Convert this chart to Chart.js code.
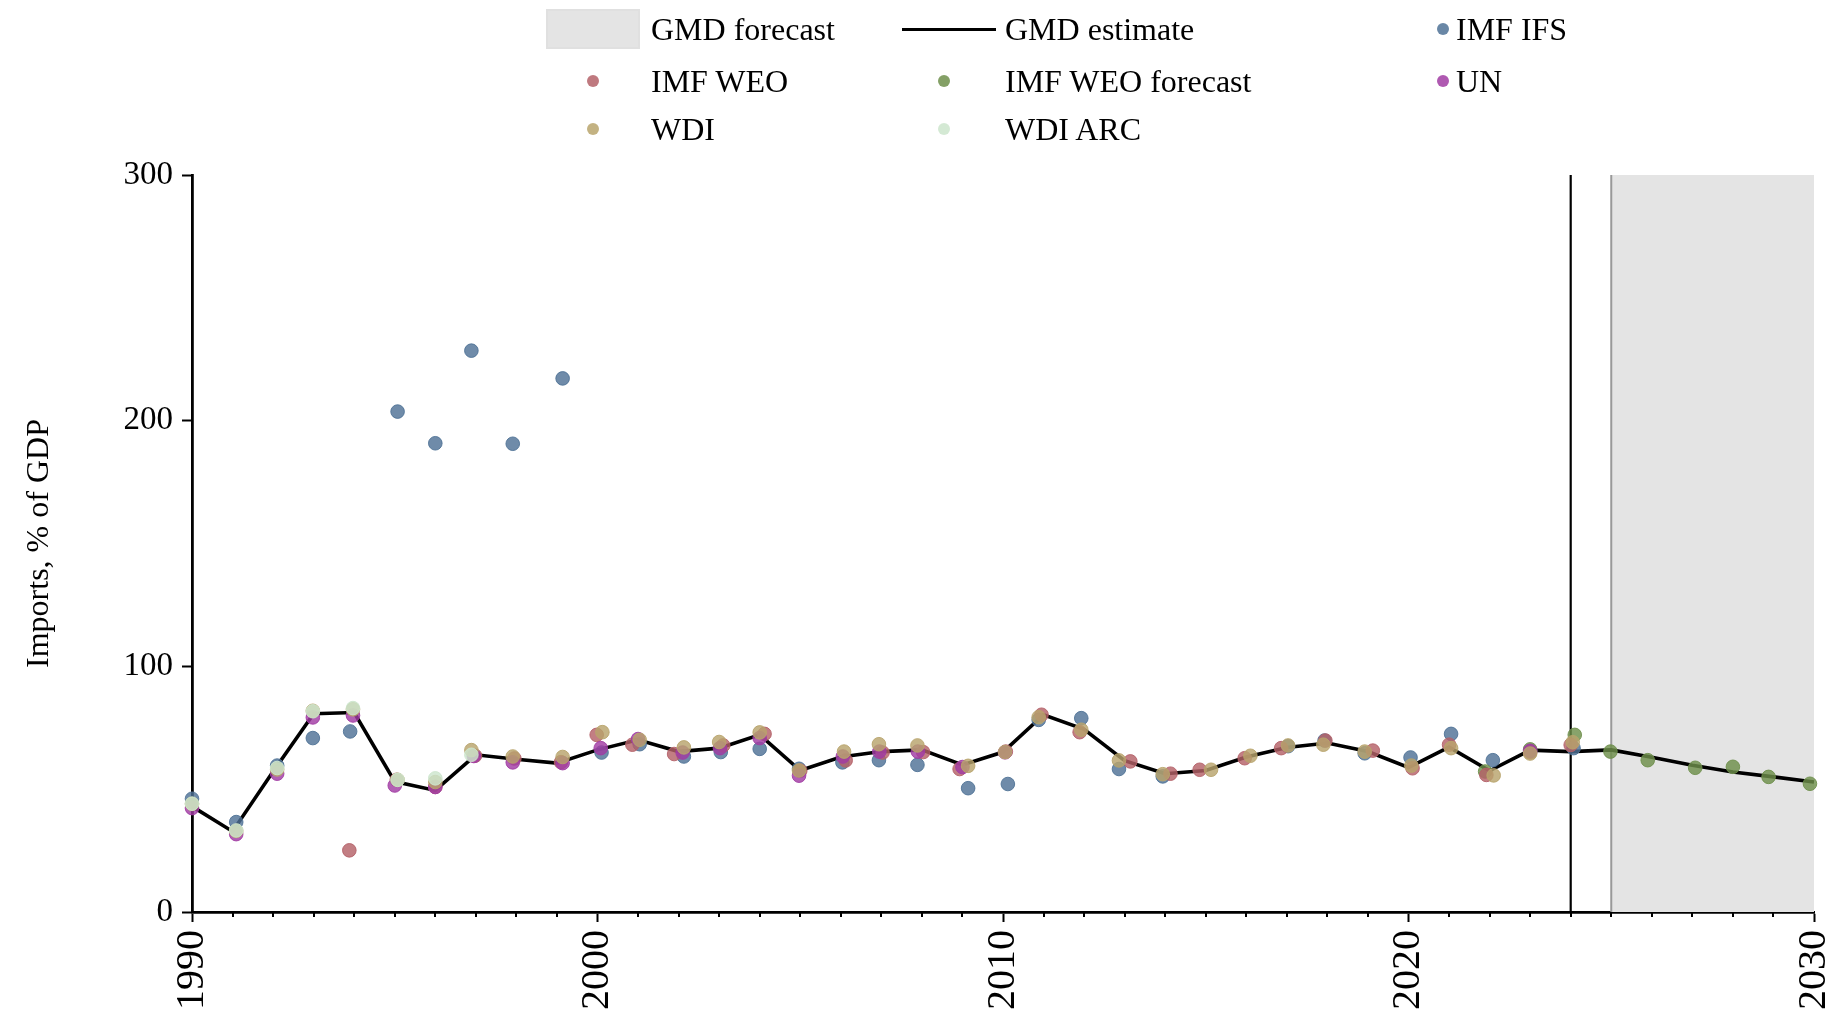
<!DOCTYPE html>
<html>
<head>
<meta charset="utf-8">
<script src="https://cdn.jsdelivr.net/npm/chart.js@4.4.1/dist/chart.umd.min.js"></script>
<style>
html, body { margin:0; padding:0; background:#fff; }
#wrap { position:relative; width:1837px; height:1017px; font-family:"Liberation Serif","Times New Roman",serif; }
#chart { position:absolute; left:0; top:0; }
.lg-text { position:absolute; font-size:32px; line-height:32px; color:#000; white-space:nowrap; }
.lg-dot { position:absolute; width:12px; height:12px; border-radius:50%; }
.lg-patch { position:absolute; background:#e4e4e4; border:2px solid #e0e0e0; box-sizing:border-box; }
.lg-line { position:absolute; height:3px; background:#000; }
</style>
</head>
<body>
<div id="wrap">
<canvas id="chart" width="1837" height="1017"></canvas>
</div>
<script>
// GMD estimate (line)
const years = [1990,1991,1992,1993,1994,1995,1996,1997,1998,1999,
  2000,2001,2002,2003,2004,2005,2006,2007,2008,2009,
  2010,2011,2012,2013,2014,2015,2016,2017,2018,2019,
  2020,2021,2022,2023,2024,2025,2026,2027,2028,2029,2030];
const gmdEstimate = [43.0,32.8,57.2,80.7,81.2,53.1,49.5,64.0,62.2,60.6,
  66.0,70.1,65.3,66.7,72.1,57.6,63.1,65.3,66.0,59.9,
  65.1,80.3,74.4,61.6,56.3,57.6,63.1,67.0,68.8,65.3,
  58.8,67.1,57.5,65.9,65.3,66.0,63.0,59.7,57.0,55.0,52.9];

// source points (x = year as placed in the picture)
const ifsYears = [1990,1991.09,1992.1,1992.98,1993.9,1995.07,1996.0,1996.89,1997.91,1999.14,
  2000.1,2001.04,2002.13,2003.04,2004.0,2004.97,2006.04,2006.94,2007.89,2009.14,
  2010.12,2010.88,2011.93,2012.86,2013.94,2017.03,2017.93,2018.92,2020.05,2021.05,
  2022.08,2023.0,2024.07];
const ifsValues = [46.1,36.6,59.6,70.8,73.5,203.7,190.8,228.5,190.6,217.2,
  64.9,68.3,63.3,65.1,66.4,58.3,60.9,61.8,59.9,50.4,
  52.1,78.2,78.9,58.2,55.2,67.5,69.8,64.6,62.9,72.5,
  61.8,65.5,66.7];

const weoYears = [1993.88,1995.05,1996.0,1996.98,1997.95,1999.1,1999.98,2000.86,2001.89,2003.1,
  2004.12,2005.0,2006.12,2007.03,2008.03,2008.93,2010.07,2010.95,2011.89,2013.14,
  2014.13,2014.85,2015.96,2016.86,2017.95,2019.12,2020.1,2021.0,2021.92,2023.0,2024.0];
const weoValues = [25.1,53.8,50.9,63.6,62.5,61.0,72.1,68.1,64.3,67.8,
  72.5,57.5,61.7,64.9,65.1,58.2,65.3,80.3,73.2,61.3,
  56.3,57.9,62.6,66.7,69.8,65.7,58.5,68.1,55.8,65.0,68.0];

const weoForecastYears = [2021.89,2023.0,2024.1,2024.98,2025.9,2027.07,2028.0,2028.88,2029.9];
const weoForecastValues = [57.2,66.2,72.1,65.3,61.8,58.7,59.1,55.0,52.2];

const unYears = [1990,1991.09,1992.1,1992.98,1993.97,1995.0,1996.0,1996.95,1997.91,1999.14,
  2000.08,2001.0,2002.1,2003.02,2004.0,2004.97,2006.05,2006.95,2007.9,2009.0,2010.05,2023.0];
const unValues = [42.3,31.7,56.3,79.2,80.0,51.5,50.9,63.5,60.9,60.6,
  66.7,70.4,64.9,66.7,70.8,55.5,63.3,65.3,65.3,59.0,65.0,65.6];

const wdiYears = [1990,1991.09,1992.1,1992.98,1993.97,1995.07,1996.0,1996.89,1997.91,1999.14,
  2000.12,2001.04,2002.13,2003.0,2004.0,2004.97,2006.08,2006.94,2007.89,2009.14,
  2010.05,2010.88,2011.93,2012.86,2013.94,2015.13,2016.1,2017.03,2017.9,2018.92,
  2020.07,2021.05,2022.1,2023.0,2024.05];
const wdiValues = [44.0,33.0,58.0,81.9,82.5,53.8,52.9,65.9,63.3,63.1,
  73.2,70.1,67.0,69.2,73.1,57.6,65.3,68.3,67.8,59.5,
  65.1,79.3,74.2,61.7,56.1,57.9,63.6,67.8,68.1,65.3,
  59.6,66.7,55.6,64.5,69.1];

const wdiArcYears = [1990,1991.09,1992.1,1992.98,1993.97,1995.07,1996.0,1996.89];
const wdiArcValues = [44.1,33.2,58.6,81.7,83.0,53.8,54.4,64.0];

const estimateEnd = 2024;
const forecastStart = 2025;
const forecastEnd = 2030;
const minorYears = years.filter(y => y % 10 !== 0);

const colors = {
  ifs: '79,114,150', weo: '180,97,104', weoF: '110,143,75',
  un: '161,60,163', wdi: '184,164,108', wdiArc: '205,229,205'
};

function pts(xs, ys) { return xs.map((x, i) => ({x: x, y: ys[i]})); }
function scatterSet(label, xs, ys, rgb, order) {
  return {
    type: 'scatter', label: label, data: pts(xs, ys), order: order,
    backgroundColor: 'rgba(' + rgb + ',0.82)', borderColor: 'rgba(' + rgb + ',0.9)',
    borderWidth: 1, pointRadius: 6.8, clip: false
  };
}

const FONT = '"Liberation Serif","Times New Roman",serif';

const forecastPlugin = {
  id: 'forecast',
  beforeDatasetsDraw(chart) {
    const {ctx, chartArea, scales} = chart;
    const x0 = scales.x.getPixelForValue(forecastStart);
    const x1 = scales.x.getPixelForValue(forecastEnd);
    const xe = scales.x.getPixelForValue(estimateEnd);
    ctx.save();
    ctx.fillStyle = '#e4e4e4';
    ctx.fillRect(x0, chartArea.top, x1 - x0, chartArea.bottom - chartArea.top);
    ctx.strokeStyle = '#999';
    ctx.lineWidth = 2;
    ctx.beginPath(); ctx.moveTo(x0, chartArea.top); ctx.lineTo(x0, chartArea.bottom); ctx.stroke();
    ctx.strokeStyle = '#000';
    ctx.lineWidth = 2.2;
    ctx.beginPath(); ctx.moveTo(xe, chartArea.top); ctx.lineTo(xe, chartArea.bottom); ctx.stroke();
    ctx.restore();
  },
  afterDraw(chart) {
    // small yearly ticks
    const {ctx, scales} = chart;
    const sx = scales.x;
    ctx.save();
    ctx.strokeStyle = '#000';
    ctx.lineWidth = 2;
    minorYears.forEach(y => {
      const px = Math.round(sx.getPixelForValue(y));
      ctx.beginPath(); ctx.moveTo(px, sx.top); ctx.lineTo(px, sx.top + 5); ctx.stroke();
    });
    ctx.restore();
  }
};

new Chart(document.getElementById('chart'), {
  data: {
    datasets: [
      {type: 'line', label: 'GMD estimate', data: pts(years, gmdEstimate), borderColor: '#000',
        borderWidth: 3.6, pointRadius: 0, tension: 0, order: 10, clip: false},
      scatterSet('IMF IFS', ifsYears, ifsValues, colors.ifs, 6),
      scatterSet('IMF WEO', weoYears, weoValues, colors.weo, 4),
      scatterSet('IMF WEO forecast', weoForecastYears, weoForecastValues, colors.weoF, 5),
      scatterSet('UN', unYears, unValues, colors.un, 3),
      scatterSet('WDI', wdiYears, wdiValues, colors.wdi, 2),
      scatterSet('WDI ARC', wdiArcYears, wdiArcValues, colors.wdiArc, 1)
    ]
  },
  options: {
    responsive: false,
    animation: false,
    layout: {padding: {top: 175, right: 23, left: 0, bottom: 0}},
    plugins: {legend: {display: false}, tooltip: {enabled: false}},
    scales: {
      x: {
        type: 'linear', position: 'bottom', min: 1990, max: 2030,
        afterFit(s) { s.height = 105; s.paddingLeft = 0; s.paddingRight = 0; },
        ticks: {stepSize: 10, minRotation: 90, maxRotation: 90, padding: 8, color: '#000',
          font: {family: FONT, size: 40}, callback: v => String(v)},
        grid: {display: true, drawOnChartArea: false, drawTicks: true, tickLength: 10,
          tickWidth: 2, tickColor: '#000'},
        border: {display: true, color: '#000', width: 2.8}
      },
      y: {
        min: 0, max: 300,
        afterFit(s) { s.width = 192; s.paddingTop = 0; s.paddingBottom = 0; },
        ticks: {stepSize: 100, padding: 9, color: '#000', font: {family: FONT, size: 33}},
        grid: {display: true, drawOnChartArea: false, drawTicks: true, tickLength: 10,
          tickWidth: 2, tickColor: '#000'},
        border: {display: true, color: '#000', width: 2.8},
        title: {display: true, text: 'Imports, % of GDP', color: '#000',
          font: {family: FONT, size: 32}, padding: {top: 20, bottom: 0}}
      }
    }
  },
  plugins: [forecastPlugin]
});

// legend (3 columns x 3 rows)
const legendItems = [
  {label: 'GMD forecast', kind: 'patch'},
  {label: 'GMD estimate', kind: 'line'},
  {label: 'IMF IFS', kind: 'dot', rgb: colors.ifs},
  {label: 'IMF WEO', kind: 'dot', rgb: colors.weo},
  {label: 'IMF WEO forecast', kind: 'dot', rgb: colors.weoF},
  {label: 'UN', kind: 'dot', rgb: colors.un},
  {label: 'WDI', kind: 'dot', rgb: colors.wdi},
  {label: 'WDI ARC', kind: 'dot', rgb: colors.wdiArc}
];
const colHandle = [593, 944, 1443];
const colText = [651, 1005, 1456];
const rowMid = [29, 81, 129];
const wrap = document.getElementById('wrap');
legendItems.forEach((it, i) => {
  const c = i % 3, r = Math.floor(i / 3);
  let h = document.createElement('div');
  if (it.kind === 'patch') {
    h.className = 'lg-patch';
    Object.assign(h.style, {left: '546px', top: (rowMid[r] - 20) + 'px', width: '94px', height: '40px'});
  } else if (it.kind === 'line') {
    h.className = 'lg-line';
    Object.assign(h.style, {left: '902px', top: (rowMid[r] - 1.5) + 'px', width: '94px'});
  } else {
    h.className = 'lg-dot';
    h.style.background = 'rgba(' + it.rgb + ',0.85)';
    h.style.left = (colHandle[c] - 6) + 'px';
    h.style.top = (rowMid[r] - 6) + 'px';
  }
  wrap.appendChild(h);
  const t = document.createElement('div');
  t.className = 'lg-text';
  t.textContent = it.label;
  t.style.left = colText[c] + 'px';
  t.style.top = (rowMid[r] - 16) + 'px';
  wrap.appendChild(t);
});
</script>
</body>
</html>
